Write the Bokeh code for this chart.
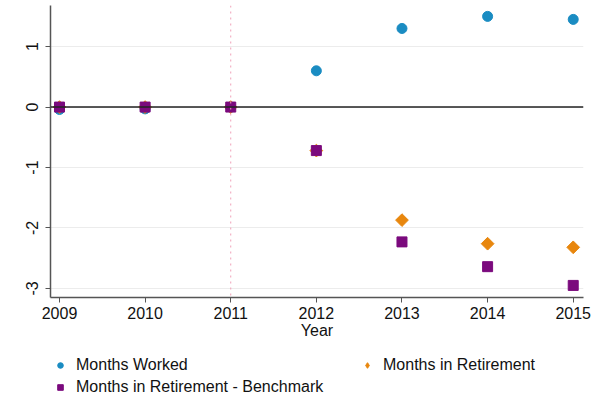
import math
from bokeh.plotting import figure
from bokeh.layouts import column
from bokeh.models import Span, Legend, LegendItem, FixedTicker, Range1d
from bokeh.embed import file_html
from bokeh.resources import INLINE

years = [2009, 2010, 2011, 2012, 2013, 2014, 2015]
months_worked = [-0.04, -0.03, 0.0, 0.60, 1.30, 1.50, 1.45]
months_retirement = [0.0, 0.0, 0.0, -0.72, -1.87, -2.26, -2.32]
months_benchmark = [0.0, 0.0, 0.0, -0.72, -2.23, -2.64, -2.95]
y_ticks = [-3, -2, -1, 0, 1]
labels = ["Months Worked", "Months in Retirement", "Months in Retirement - Benchmark"]

FONT = "Liberation Sans"
FS = "16px"
BLUE = "#1a8cc2"
ORANGE = "#e8870e"
PURPLE = "#7b0a7d"

p = figure(width=599, height=345, output_backend="svg", toolbar_location=None,
           x_range=Range1d(2008.895, 2015.12), y_range=Range1d(-3.15, 1.68),
           min_border_left=50, min_border_right=16, min_border_top=5, min_border_bottom=48)
p.outline_line_color = None
p.background_fill_color = "white"
p.border_fill_color = "white"

p.xgrid.visible = False
p.ygrid.grid_line_color = "#ececec"
p.ygrid.grid_line_width = 1
p.ygrid.ticker = FixedTicker(ticks=y_ticks)

for ax in (p.xaxis[0], p.yaxis[0]):
    ax.axis_line_color = "#555555"
    ax.axis_line_width = 1.5
    ax.major_tick_line_color = "#555555"
    ax.major_tick_out = 5
    ax.major_tick_in = 0
    ax.minor_tick_line_color = None
    ax.major_label_text_font = FONT
    ax.major_label_text_font_size = FS
    ax.major_label_text_color = "#111111"

p.xaxis.ticker = FixedTicker(ticks=years)
p.yaxis.ticker = FixedTicker(ticks=y_ticks)
p.yaxis.major_label_overrides = {t: str(t) for t in y_ticks}
p.yaxis.major_label_orientation = "vertical"
p.yaxis.major_label_standoff = 7
p.xaxis.major_label_standoff = 4
p.xaxis.axis_label = "Year"
p.xaxis.axis_label_text_font = FONT
p.xaxis.axis_label_text_font_style = "normal"
p.xaxis.axis_label_text_font_size = FS
p.xaxis.axis_label_standoff = 0
p.xaxis.axis_label_text_color = "#111111"

p.add_layout(Span(location=2011, dimension="height", line_color="#f0a0b8",
                  line_dash="dotted", line_width=1))
p.add_layout(Span(location=0, dimension="width", line_color="#222222", line_width=1.5))

circle_kw = dict(marker="circle", size=10, color=BLUE)
diamond_kw = dict(marker="square", angle=math.pi / 4, size=9, color=ORANGE)
square_kw = dict(marker="square", size=10, color=PURPLE)

p.scatter(years, months_worked, **circle_kw)
p.scatter(years, months_retirement, **diamond_kw)
p.scatter(years, months_benchmark, **square_kw)

# legend panel below the plot (its ranges keep the series' points out of view)
lg = figure(width=599, height=57, output_backend="svg", toolbar_location=None,
            x_range=Range1d(0, 1), y_range=Range1d(0, 1),
            x_axis_location=None, y_axis_location=None,
            min_border_left=0, min_border_right=0, min_border_top=0, min_border_bottom=0)
lg.grid.visible = False
lg.outline_line_color = None
lg.border_fill_color = "white"
l1 = lg.scatter(years, months_worked, **circle_kw)
l2 = lg.scatter(years, months_retirement, marker="diamond", size=15, color=ORANGE)
l3 = lg.scatter(years, months_benchmark, **square_kw)

legend = Legend(items=[LegendItem(label=labels[0], renderers=[l1]),
                       LegendItem(label=labels[2], renderers=[l3]),
                       LegendItem(label=labels[1], renderers=[l2])],
                orientation="vertical", nrows=2, location=(3, 5),
                label_text_font=FONT, label_text_font_size=FS, label_text_color="#111111",
                glyph_width=14, glyph_height=14, label_standoff=9, label_height=20,
                label_width=282, spacing=2, padding=0, margin=0, border_line_color=None,
                background_fill_alpha=0)
lg.add_layout(legend)

layout = column(p, lg, spacing=0)
open("out.html", "w").write(file_html(layout, INLINE))
